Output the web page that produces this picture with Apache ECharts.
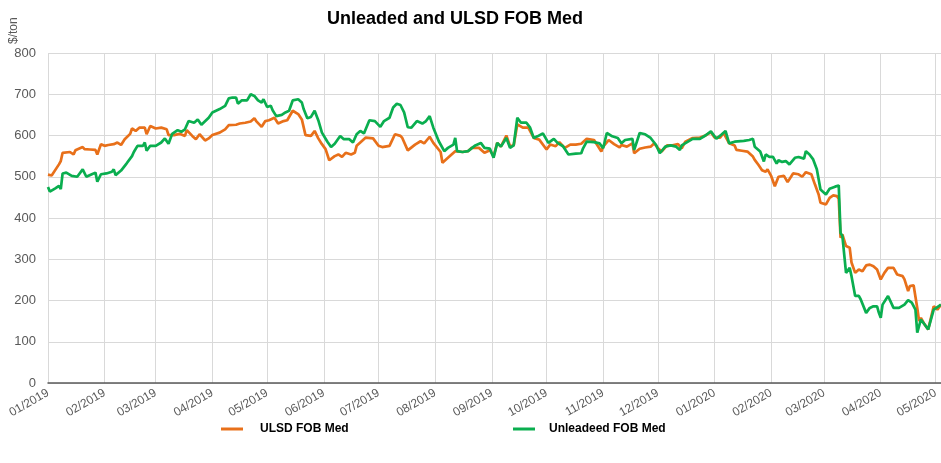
<!DOCTYPE html>
<html>
<head>
<meta charset="utf-8">
<script src="https://cdn.jsdelivr.net/npm/echarts@6/dist/echarts.min.js"></script>
<style>
  html, body { margin: 0; padding: 0; background: #fff; }
  #main { width: 941px; height: 463px; }
</style>
</head>
<body>
<div id="main"></div>
<script>
const monthTicks = [
  '2019-01-01', '2019-02-01', '2019-03-01', '2019-04-01', '2019-05-01', '2019-06-01',
  '2019-07-01', '2019-08-01', '2019-09-01', '2019-10-01', '2019-11-01', '2019-12-01',
  '2020-01-01', '2020-02-01', '2020-03-01', '2020-04-01', '2020-05-01'
]

// ULSD FOB Med ($/ton)
const ulsdDates = [
  '2019-01-01', '2019-01-03', '2019-01-07', '2019-01-08', '2019-01-09', '2019-01-13', '2019-01-15', '2019-01-16',
  '2019-01-20', '2019-01-21', '2019-01-24', '2019-01-27', '2019-01-28', '2019-01-30', '2019-02-01', '2019-02-03',
  '2019-02-06', '2019-02-08', '2019-02-10', '2019-02-12', '2019-02-15', '2019-02-16', '2019-02-18', '2019-02-20',
  '2019-02-23', '2019-02-24', '2019-02-26', '2019-03-01', '2019-03-04', '2019-03-07', '2019-03-08', '2019-03-11',
  '2019-03-14', '2019-03-17', '2019-03-18', '2019-03-21', '2019-03-23', '2019-03-25', '2019-03-28', '2019-03-30',
  '2019-04-01', '2019-04-05', '2019-04-08', '2019-04-10', '2019-04-14', '2019-04-16', '2019-04-19', '2019-04-22',
  '2019-04-24', '2019-04-25', '2019-04-28', '2019-04-30', '2019-05-02', '2019-05-05', '2019-05-07', '2019-05-10',
  '2019-05-12', '2019-05-15', '2019-05-18', '2019-05-20', '2019-05-22', '2019-05-25', '2019-05-27', '2019-05-29',
  '2019-05-31', '2019-06-02', '2019-06-04', '2019-06-07', '2019-06-09', '2019-06-11', '2019-06-13', '2019-06-16',
  '2019-06-18', '2019-06-19', '2019-06-21', '2019-06-24', '2019-06-28', '2019-07-01', '2019-07-03', '2019-07-07',
  '2019-07-10', '2019-07-13', '2019-07-14', '2019-07-17', '2019-07-21', '2019-07-24', '2019-07-26', '2019-07-29',
  '2019-07-31', '2019-08-04', '2019-08-05', '2019-08-08', '2019-08-10', '2019-08-12', '2019-08-16', '2019-08-19',
  '2019-08-21', '2019-08-25', '2019-08-28', '2019-08-31', '2019-09-02', '2019-09-04', '2019-09-06', '2019-09-09',
  '2019-09-11', '2019-09-13', '2019-09-15', '2019-09-18', '2019-09-21', '2019-09-24', '2019-09-27', '2019-10-01',
  '2019-10-03', '2019-10-06', '2019-10-08', '2019-10-11', '2019-10-14', '2019-10-17', '2019-10-20', '2019-10-23',
  '2019-10-27', '2019-10-31', '2019-11-01', '2019-11-04', '2019-11-07', '2019-11-10', '2019-11-11', '2019-11-14',
  '2019-11-17', '2019-11-18', '2019-11-21', '2019-11-24', '2019-11-27', '2019-11-29', '2019-12-01', '2019-12-03',
  '2019-12-06', '2019-12-09', '2019-12-12', '2019-12-14', '2019-12-16', '2019-12-20', '2019-12-24', '2019-12-27',
  '2019-12-30', '2020-01-01', '2020-01-04', '2020-01-06', '2020-01-09', '2020-01-12', '2020-01-13', '2020-01-16',
  '2020-01-19', '2020-01-22', '2020-01-23', '2020-01-25', '2020-01-27', '2020-01-28', '2020-01-29', '2020-01-30',
  '2020-02-01', '2020-02-03', '2020-02-05', '2020-02-08', '2020-02-10', '2020-02-13', '2020-02-16', '2020-02-18',
  '2020-02-20', '2020-02-23', '2020-02-25', '2020-02-27', '2020-02-28', '2020-03-02', '2020-03-04', '2020-03-06',
  '2020-03-08', '2020-03-09', '2020-03-10', '2020-03-11', '2020-03-13', '2020-03-15', '2020-03-16', '2020-03-18',
  '2020-03-20', '2020-03-22', '2020-03-24', '2020-03-26', '2020-03-28', '2020-03-30', '2020-04-01', '2020-04-03',
  '2020-04-05', '2020-04-08', '2020-04-10', '2020-04-13', '2020-04-14', '2020-04-16', '2020-04-17', '2020-04-19',
  '2020-04-21', '2020-04-22', '2020-04-23', '2020-04-25', '2020-04-27', '2020-04-30', '2020-05-01', '2020-05-02',
  '2020-05-04'
]
const ulsdValues = [
  505, 503, 530, 538, 558, 560, 554, 564,
  572, 567, 566, 565, 554, 579, 575, 577,
  579, 583, 577, 591, 604, 617, 611, 619,
  619, 603, 623, 617, 619, 615, 601, 601,
  604, 599, 613, 599, 591, 603, 588, 593,
  601, 607, 615, 625, 626, 629, 631, 634,
  642, 635, 621, 635, 637, 643, 629, 635,
  637, 660, 652, 639, 601, 599, 611, 593,
  579, 567, 540, 550, 554, 548, 558, 554,
  558, 575, 583, 595, 593, 575, 572, 575,
  603, 599, 594, 564, 578, 586, 581, 597,
  582, 560, 534, 546, 554, 562, 560, 562,
  570, 570, 558, 564, 550, 582, 573, 600,
  574, 576, 627, 619, 619, 594, 590, 566,
  578, 574, 584, 570, 578, 578, 580, 592,
  589, 561, 573, 589, 579, 571, 577, 573,
  581, 557, 568, 571, 573, 581, 569, 561,
  576, 576, 579, 569, 585, 594, 595, 600,
  608, 595, 595, 606, 581, 576, 565, 563,
  561, 549, 541, 529, 516, 520, 512, 518,
  502, 477, 500, 502, 487, 508, 506, 500,
  511, 506, 481, 457, 437, 433, 449, 455,
  453, 447, 352, 360, 332, 328, 292, 267,
  275, 271, 285, 287, 283, 275, 251, 267,
  279, 279, 263, 259, 251, 223, 235, 237,
  182, 150, 158, 142, 130, 186, 182, 178,
  190
]

// Unleaded FOB Med ($/ton)
const unlDates = [
  '2019-01-01', '2019-01-02', '2019-01-05', '2019-01-07', '2019-01-08', '2019-01-09', '2019-01-11', '2019-01-14',
  '2019-01-17', '2019-01-20', '2019-01-22', '2019-01-25', '2019-01-27', '2019-01-28', '2019-01-30', '2019-02-02',
  '2019-02-05', '2019-02-06', '2019-02-07', '2019-02-10', '2019-02-13', '2019-02-16', '2019-02-17', '2019-02-19',
  '2019-02-22', '2019-02-23', '2019-02-24', '2019-02-26', '2019-03-01', '2019-03-04', '2019-03-06', '2019-03-08',
  '2019-03-10', '2019-03-13', '2019-03-15', '2019-03-17', '2019-03-19', '2019-03-22', '2019-03-24', '2019-03-26',
  '2019-03-30', '2019-04-01', '2019-04-05', '2019-04-08', '2019-04-10', '2019-04-12', '2019-04-14', '2019-04-15',
  '2019-04-17', '2019-04-20', '2019-04-22', '2019-04-24', '2019-04-26', '2019-04-28', '2019-04-29', '2019-05-01',
  '2019-05-03', '2019-05-04', '2019-05-06', '2019-05-09', '2019-05-11', '2019-05-13', '2019-05-15', '2019-05-18',
  '2019-05-20', '2019-05-21', '2019-05-23', '2019-05-25', '2019-05-27', '2019-05-29', '2019-05-31', '2019-06-03',
  '2019-06-05', '2019-06-07', '2019-06-10', '2019-06-12', '2019-06-15', '2019-06-17', '2019-06-19', '2019-06-21',
  '2019-06-23', '2019-06-26', '2019-06-29', '2019-07-02', '2019-07-04', '2019-07-07', '2019-07-09', '2019-07-11',
  '2019-07-13', '2019-07-15', '2019-07-17', '2019-07-19', '2019-07-22', '2019-07-25', '2019-07-27', '2019-07-29',
  '2019-07-31', '2019-08-03', '2019-08-06', '2019-08-08', '2019-08-11', '2019-08-12', '2019-08-13', '2019-08-16',
  '2019-08-19', '2019-08-23', '2019-08-26', '2019-08-28', '2019-08-31', '2019-09-02', '2019-09-04', '2019-09-06',
  '2019-09-09', '2019-09-11', '2019-09-13', '2019-09-15', '2019-09-17', '2019-09-20', '2019-09-22', '2019-09-24',
  '2019-09-26', '2019-09-29', '2019-10-02', '2019-10-05', '2019-10-07', '2019-10-10', '2019-10-13', '2019-10-17',
  '2019-10-20', '2019-10-21', '2019-10-23', '2019-10-27', '2019-10-30', '2019-11-01', '2019-11-03', '2019-11-06',
  '2019-11-09', '2019-11-11', '2019-11-13', '2019-11-14', '2019-11-17', '2019-11-18', '2019-11-21', '2019-11-24',
  '2019-11-27', '2019-11-30', '2019-12-02', '2019-12-05', '2019-12-08', '2019-12-11', '2019-12-13', '2019-12-14',
  '2019-12-17', '2019-12-20', '2019-12-24', '2019-12-27', '2019-12-30', '2020-01-02', '2020-01-05', '2020-01-07',
  '2020-01-09', '2020-01-12', '2020-01-13', '2020-01-17', '2020-01-20', '2020-01-22', '2020-01-23', '2020-01-26',
  '2020-01-28', '2020-01-29', '2020-01-31', '2020-02-02', '2020-02-04', '2020-02-05', '2020-02-07', '2020-02-09',
  '2020-02-11', '2020-02-14', '2020-02-16', '2020-02-19', '2020-02-20', '2020-02-22', '2020-02-24', '2020-02-26',
  '2020-02-27', '2020-02-28', '2020-03-02', '2020-03-04', '2020-03-07', '2020-03-09', '2020-03-10', '2020-03-11',
  '2020-03-13', '2020-03-15', '2020-03-16', '2020-03-18', '2020-03-20', '2020-03-21', '2020-03-24', '2020-03-26',
  '2020-03-28', '2020-03-30', '2020-03-31', '2020-04-01', '2020-04-02', '2020-04-05', '2020-04-08', '2020-04-11',
  '2020-04-14', '2020-04-16', '2020-04-18', '2020-04-20', '2020-04-21', '2020-04-23', '2020-04-27', '2020-04-28',
  '2020-04-30', '2020-05-01', '2020-05-04'
]
const unlValues = [
  475, 464, 472, 478, 470, 508, 510, 502,
  500, 518, 500, 506, 510, 488, 506, 508,
  512, 518, 504, 515, 532, 550, 560, 575,
  575, 583, 563, 575, 575, 583, 593, 580,
  604, 613, 609, 615, 635, 631, 639, 626,
  643, 656, 664, 672, 690, 692, 692, 677,
  685, 685, 700, 696, 685, 680, 688, 669,
  672, 661, 647, 650, 656, 660, 685, 688,
  680, 664, 642, 645, 660, 637, 607, 585,
  572, 580, 599, 591, 591, 583, 603, 611,
  605, 637, 635, 621, 635, 643, 668, 677,
  674, 656, 620, 619, 635, 629, 635, 647,
  619, 586, 562, 570, 578, 594, 562, 560,
  562, 576, 582, 570, 568, 546, 582, 573,
  594, 570, 576, 643, 631, 631, 619, 594,
  598, 605, 582, 592, 582, 574, 554, 556,
  557, 569, 585, 584, 581, 569, 606, 598,
  594, 581, 589, 585, 592, 565, 606, 603,
  594, 577, 557, 573, 576, 573, 565, 576,
  584, 592, 592, 600, 610, 592, 603, 611,
  581, 585, 589, 587, 589, 592, 573, 561,
  537, 554, 548, 548, 532, 540, 536, 538,
  530, 546, 548, 544, 562, 554, 542, 518,
  494, 469, 457, 471, 476, 479, 364, 356,
  267, 279, 259, 211, 211, 203, 170, 182,
  186, 186, 170, 158, 190, 211, 182, 182,
  190, 201, 195, 178, 122, 154, 130, 130,
  178, 182, 190
]

const pad = n => (n < 10 ? '0' + n : '' + n)
const toTime = s => +echarts.time.parse(s)
const tickTimes = monthTicks.map(toTime)
const ulsdData = ulsdDates.map((d, i) => [toTime(d), ulsdValues[i]])
const unlData = unlDates.map((d, i) => [toTime(d), unlValues[i]])

const gray = '#595959'
const chart = echarts.init(document.getElementById('main'))

chart.setOption({
  animation: false,
  backgroundColor: '#fff',
  title: {
    text: 'Unleaded and ULSD FOB Med',
    left: 322,
    top: 5,
    textStyle: { fontFamily: 'Liberation Sans', fontSize: 18, fontWeight: 'bold', color: '#000' }
  },
  graphic: [{
    type: 'text',
    x: 8,
    y: 44,
    rotation: Math.PI / 2,
    style: { text: '$/ton', fontFamily: 'Liberation Sans', fontSize: 12, fill: gray }
  }],
  legend: [{
    left: 216,
    top: 418,
    data: ['ULSD FOB Med'],
    icon: 'rect',
    itemWidth: 22,
    itemHeight: 3,
    textStyle: { fontFamily: 'Liberation Sans', fontSize: 12, fontWeight: 'bold', color: '#000', padding: [0, 0, 0, 12] }
  }, {
    left: 508,
    top: 418,
    data: ['Unleadeed FOB Med'],
    icon: 'rect',
    itemWidth: 22,
    itemHeight: 3,
    textStyle: { fontFamily: 'Liberation Sans', fontSize: 12, fontWeight: 'bold', color: '#000', padding: [0, 0, 0, 9] }
  }],
  grid: { left: 48, right: 0, top: 53, bottom: 80, outerBoundsMode: 'none' },
  xAxis: {
    type: 'value',
    min: toTime('2019-01-01'),
    max: toTime('2020-05-04'),
    axisLine: { lineStyle: { color: gray, width: 1.5 } },
    axisTick: { show: false, customValues: tickTimes },
    axisLabel: {
      customValues: tickTimes,
      rotate: 30,
      margin: 9,
      color: gray,
      fontFamily: 'Liberation Sans',
      fontSize: 12,
      formatter: v => {
        const d = new Date(v)
        return pad(d.getMonth() + 1) + '/' + d.getFullYear()
      }
    },
    splitLine: { show: true, lineStyle: { color: '#d9d9d9', width: 1 } }
  },
  yAxis: {
    type: 'value',
    min: 0,
    max: 800,
    interval: 100,
    axisLine: { show: false },
    axisTick: { show: false },
    axisLabel: { color: gray, fontFamily: 'Liberation Sans', fontSize: 13, margin: 12 },
    splitLine: { lineStyle: { color: '#d9d9d9', width: 1 } }
  },
  series: [{
    name: 'ULSD FOB Med',
    type: 'line',
    data: ulsdData,
    showSymbol: false,
    color: '#E8701A',
    lineStyle: { width: 2.7, color: '#E8701A' },
    z: 2
  }, {
    name: 'Unleadeed FOB Med',
    type: 'line',
    data: unlData,
    showSymbol: false,
    color: '#0AAE4F',
    lineStyle: { width: 2.7, color: '#0AAE4F' },
    z: 3
  }]
})
</script>
</body>
</html>
